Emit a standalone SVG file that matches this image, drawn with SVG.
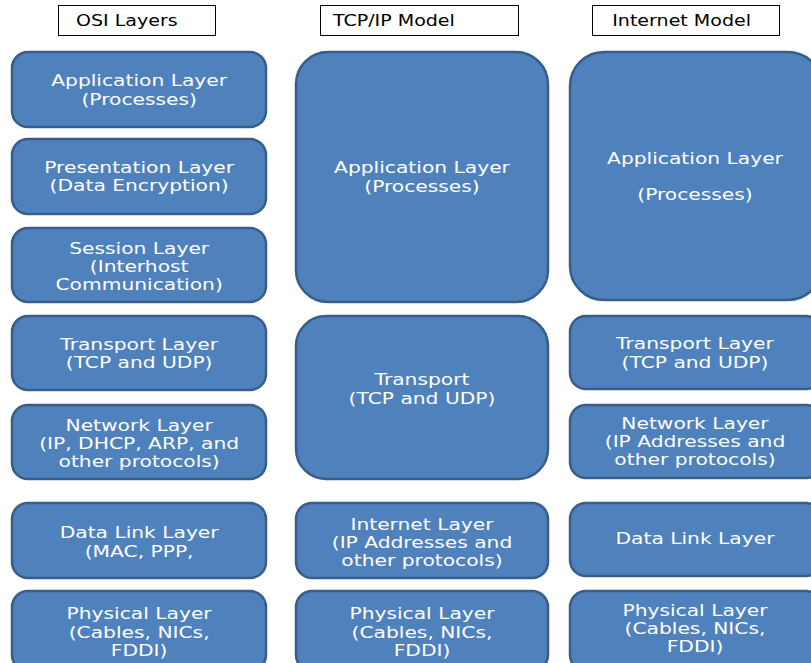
<svg xmlns="http://www.w3.org/2000/svg" width="811" height="663" viewBox="0 0 811 663">
<style>
.hdr{fill:#fff;stroke:#000;stroke-width:1}
.ht{font-family:"DejaVu Sans",sans-serif;font-size:15px;fill:#000}
.box{fill:#4F81BD;stroke:#385D8A;stroke-width:2.5}
.t{font-family:"DejaVu Sans",sans-serif;font-size:15px;fill:#fff;text-anchor:middle}
</style>
<rect width="811" height="663" fill="#fff"/>
<g id="hdr-osi"><rect class="hdr" x="58.5" y="5.5" width="157" height="30"/><text class="ht" transform="matrix(1.27,0,0,1,-20.5,0)" x="76" y="26">OSI Layers</text></g>
<g id="hdr-tcpip"><rect class="hdr" x="320.5" y="5.5" width="198" height="30"/><text class="ht" transform="matrix(1.27,0,0,1,-90,0)" x="333" y="26">TCP/IP Model</text></g>
<g id="hdr-internet"><rect class="hdr" x="592.5" y="5.5" width="187" height="30"/><text class="ht" transform="matrix(1.27,0,0,1,-165,0)" x="612" y="26">Internet Model</text></g>

<g id="osi-app"><rect class="box" x="12" y="52" width="254" height="75" rx="16"/><text class="t" transform="matrix(1.35,0,0,1,-48.5,0)" x="139"><tspan x="139" y="86">Application Layer</tspan><tspan x="139" y="105">(Processes)</tspan></text></g>
<g id="osi-pres"><rect class="box" x="12" y="139" width="254" height="75" rx="16"/><text class="t" transform="matrix(1.35,0,0,1,-48.5,0)"><tspan x="139" y="173">Presentation Layer</tspan><tspan x="139" y="191">(Data Encryption)</tspan></text></g>
<g id="osi-session"><rect class="box" x="12" y="228" width="254" height="74" rx="16"/><text class="t" transform="matrix(1.35,0,0,1,-48.5,0)"><tspan x="139" y="254">Session Layer</tspan><tspan x="139" y="272">(Interhost</tspan><tspan x="139" y="290">Communication)</tspan></text></g>
<g id="osi-transport"><rect class="box" x="12" y="316" width="254" height="74" rx="16"/><text class="t" transform="matrix(1.35,0,0,1,-48.5,0)"><tspan x="139" y="350">Transport Layer</tspan><tspan x="139" y="368">(TCP and UDP)</tspan></text></g>
<g id="osi-network"><rect class="box" x="12" y="405" width="254" height="74" rx="16"/><text class="t" transform="matrix(1.35,0,0,1,-48.5,0)"><tspan x="139" y="431">Network Layer</tspan><tspan x="139" y="449">(IP, DHCP, ARP, and</tspan><tspan x="139" y="467">other protocols)</tspan></text></g>
<g id="osi-datalink"><rect class="box" x="12" y="503" width="254" height="75" rx="16"/><text class="t" transform="matrix(1.35,0,0,1,-48.5,0)"><tspan x="139" y="538">Data Link Layer</tspan><tspan x="139" y="557">(MAC, PPP,</tspan></text></g>
<g id="osi-physical"><rect class="box" x="12" y="591" width="254" height="80" rx="16"/><text class="t" transform="matrix(1.35,0,0,1,-48.5,0)"><tspan x="139" y="619">Physical Layer</tspan><tspan x="139" y="638">(Cables, NICs,</tspan><tspan x="139" y="656">FDDI)</tspan></text></g>

<g id="tcp-app"><rect class="box" x="296" y="52" width="252" height="250" rx="32"/><text class="t" transform="matrix(1.35,0,0,1,-147.7,0)"><tspan x="422" y="173">Application Layer</tspan><tspan x="422" y="192">(Processes)</tspan></text></g>
<g id="tcp-transport"><rect class="box" x="296" y="316" width="252" height="163" rx="30"/><text class="t" transform="matrix(1.35,0,0,1,-147.7,0)"><tspan x="422" y="385">Transport</tspan><tspan x="422" y="404">(TCP and UDP)</tspan></text></g>
<g id="tcp-internet"><rect class="box" x="296" y="503" width="252" height="75" rx="16"/><text class="t" transform="matrix(1.35,0,0,1,-147.7,0)"><tspan x="422" y="530">Internet Layer</tspan><tspan x="422" y="548">(IP Addresses and</tspan><tspan x="422" y="566">other protocols)</tspan></text></g>
<g id="tcp-physical"><rect class="box" x="296" y="591" width="252" height="80" rx="16"/><text class="t" transform="matrix(1.35,0,0,1,-147.7,0)"><tspan x="422" y="619">Physical Layer</tspan><tspan x="422" y="638">(Cables, NICs,</tspan><tspan x="422" y="656">FDDI)</tspan></text></g>

<g id="inet-app"><rect class="box" x="570" y="52" width="252" height="248" rx="34"/><text class="t" transform="matrix(1.35,0,0,1,-243.25,0)"><tspan x="695" y="164">Application Layer</tspan><tspan x="695" y="200">(Processes)</tspan></text></g>
<g id="inet-transport"><rect class="box" x="570" y="316" width="252" height="73" rx="16"/><text class="t" transform="matrix(1.35,0,0,1,-243.25,0)"><tspan x="695" y="349">Transport Layer</tspan><tspan x="695" y="368">(TCP and UDP)</tspan></text></g>
<g id="inet-network"><rect class="box" x="570" y="405" width="252" height="73" rx="16"/><text class="t" transform="matrix(1.35,0,0,1,-243.25,0)"><tspan x="695" y="429">Network Layer</tspan><tspan x="695" y="447">(IP Addresses and</tspan><tspan x="695" y="465">other protocols)</tspan></text></g>
<g id="inet-datalink"><rect class="box" x="570" y="503" width="252" height="73" rx="16"/><text class="t" transform="matrix(1.35,0,0,1,-243.25,0)"><tspan x="695" y="544">Data Link Layer</tspan></text></g>
<g id="inet-physical"><rect class="box" x="570" y="591" width="252" height="80" rx="16"/><text class="t" transform="matrix(1.35,0,0,1,-243.25,0)"><tspan x="695" y="616">Physical Layer</tspan><tspan x="695" y="634">(Cables, NICs,</tspan><tspan x="695" y="652">FDDI)</tspan></text></g>

<g id="connectors"/>
</svg>
